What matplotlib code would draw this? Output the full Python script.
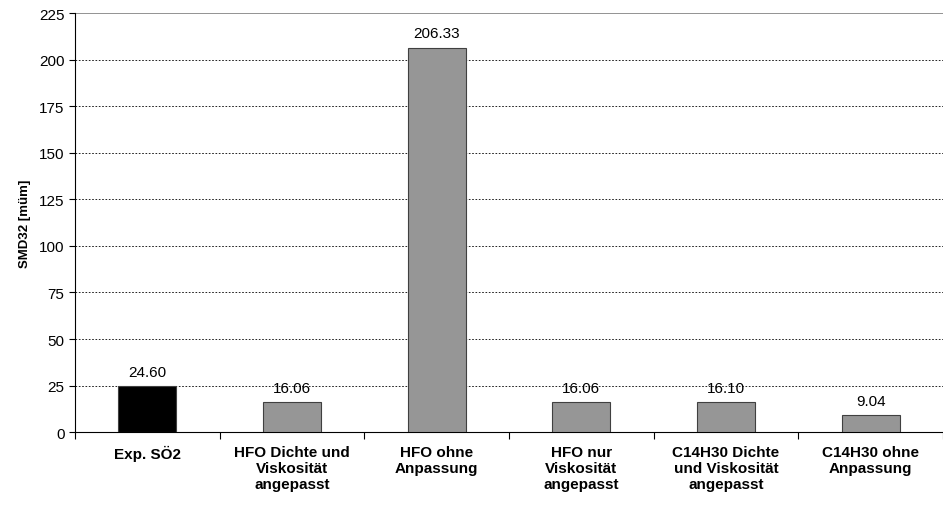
import matplotlib
matplotlib.use("Agg")
import matplotlib.pyplot as plt
import numpy as np

plt.rcParams["font.family"] = ["Liberation Sans", "DejaVu Sans"]

kategorien = ["Exp. SÖ2", "HFO Dichte und\nViskosität\nangepasst", "HFO ohne\nAnpassung",
              "HFO nur\nViskosität\nangepasst", "C14H30 Dichte\nund Viskosität\nangepasst",
              "C14H30 ohne\nAnpassung"]
werte = [24.60, 16.06, 206.33, 16.06, 16.10, 9.04]
farben = ["#000000", "#969696", "#969696", "#969696", "#969696", "#969696"]
y_ticks = [0, 25, 50, 75, 100, 125, 150, 175, 200, 225]

fig = plt.figure(figsize=(9.43, 5.06), dpi=100)
ax = fig.add_axes([0.0795, 0.144, 0.9205, 0.828])

x = np.arange(len(werte))
ax.bar(x, werte, width=0.4, color=farben, edgecolor="#404040", linewidth=0.8, zorder=3)

for xi, v in zip(x, werte):
    ax.text(xi, v + 4, f"{v:.2f}", ha="center", va="bottom", fontsize=11, color="#000000", zorder=4)

ax.set_xlim(-0.5, len(werte) - 0.5)
ax.set_ylim(0, 225)
ax.set_yticks(y_ticks)
ax.tick_params(axis="y", labelsize=11, length=4, width=0.8, direction="out")
for t in y_ticks[1:-1]:
    ax.axhline(t, color="#000000", linestyle=(0, (2, 2)), linewidth=0.6, zorder=1)
ax.axhline(225, color="#808080", linewidth=1.2, zorder=1)

ax.set_xticks(np.arange(len(werte) + 1) - 0.5)
ax.set_xticklabels([])
ax.set_xticks(x, minor=True)
ax.set_xticklabels(kategorien, minor=True, fontsize=11, fontweight="bold", va="top")
ax.tick_params(axis="x", which="major", length=5, width=0.8)
ax.tick_params(axis="x", which="minor", length=0, pad=9)

ax.set_ylabel("SMD32 [müm]", fontsize=9.5, fontweight="bold", labelpad=6)

for s in ["top", "right"]:
    ax.spines[s].set_visible(False)
ax.spines["left"].set_color("#000000")
ax.spines["bottom"].set_color("#000000")

fig.savefig("out.png", dpi=100, facecolor="white")
